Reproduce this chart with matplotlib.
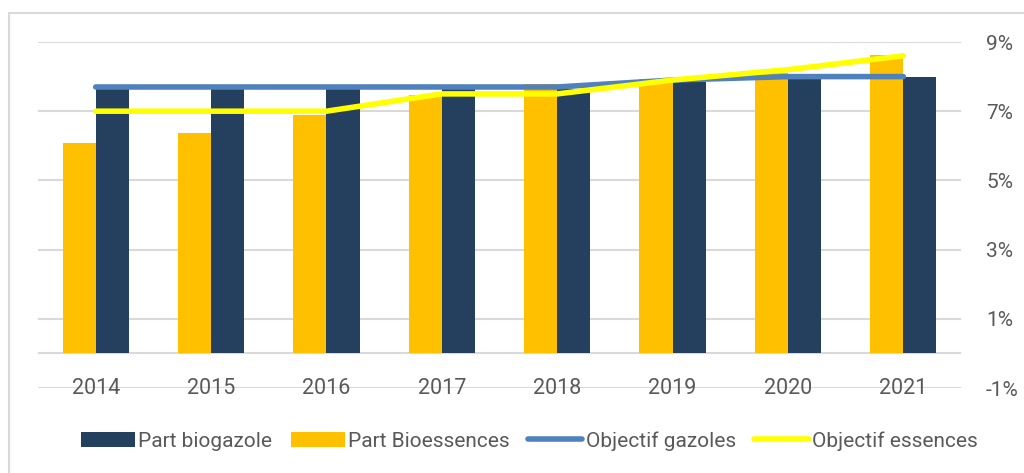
import matplotlib
matplotlib.use("Agg")
import matplotlib.pyplot as plt
from matplotlib.lines import Line2D
from matplotlib.patches import Rectangle, Patch
import numpy as np

years = ["2014", "2015", "2016", "2017", "2018", "2019", "2020", "2021"]
part_biogazole = [7.7, 7.7, 7.7, 7.7, 7.65, 7.85, 7.95, 8.0]
part_bioessences = [6.07, 6.36, 6.9, 7.47, 7.8, 7.92, 8.09, 8.62]
objectif_gazoles = [7.7, 7.7, 7.7, 7.7, 7.7, 7.9, 8.0, 8.0]
objectif_essences = [7.0, 7.0, 7.0, 7.5, 7.5, 7.9, 8.2, 8.6]
y_ticks = [-1, 1, 3, 5, 7, 9]
y_labels = ["-1%", "1%", "3%", "5%", "7%", "9%"]

NAVY = "#253F5F"
ORANGE = "#FFC000"
BLUE = "#4F81BD"
YELLOW = "#FFFF00"
GRID = "#D9D9D9"
TXT = "#595959"

plt.rcParams['font.family'] = ['Roboto', 'DejaVu Sans']

fig = plt.figure(figsize=(10.24, 4.73), dpi=100)
ax = fig.add_axes([38/1024, 1-388/473, (961-38)/1024, (388-42)/473])

x = np.arange(len(years))
w = 0.287
ax.bar(x - w/2, part_bioessences, width=w, color=ORANGE, zorder=3, label="Part Bioessences")
ax.bar(x + w/2, part_biogazole, width=w, color=NAVY, zorder=3, label="Part biogazole")
ax.plot(x, objectif_gazoles, color=BLUE, lw=4.0, solid_capstyle='round', zorder=4)
ax.plot(x, objectif_essences, color=YELLOW, lw=4.0, solid_capstyle='round', zorder=5)

ax.set_xlim(-0.5, len(years) - 0.5)
ax.set_ylim(-1, 9)
for t in y_ticks:
    ax.axhline(t, color=GRID, lw=1.5, zorder=1)
ax.axhline(0, color=GRID, lw=1.5, zorder=2)

ax.yaxis.tick_right()
ax.set_yticks(y_ticks)
ax.set_yticklabels(y_labels)
ax.tick_params(axis='y', length=0, pad=18, labelsize=15, labelcolor=TXT)
ax.set_xticks(x)
ax.set_xticklabels(years)
ax.tick_params(axis='x', length=0, pad=-7.5, labelsize=15.5, labelcolor=TXT)
for s in ax.spines.values():
    s.set_visible(False)

# chart border
fig.patches.append(Rectangle((9/1024, -0.1), 1.2, 1 - 13.5/473 + 0.1, transform=fig.transFigure,
                             fill=False, edgecolor="#D9D9D9", lw=1.5))

handles = [Patch(facecolor=NAVY), Patch(facecolor=ORANGE),
           Line2D([], [], color=BLUE, lw=4.0, solid_capstyle='round'),
           Line2D([], [], color=YELLOW, lw=4.0, solid_capstyle='round')]
labels = ["Part biogazole", "Part Bioessences", "Objectif gazoles", "Objectif essences"]
fig.legend(handles, labels, loc='center', bbox_to_anchor=(529/1024, 1-441/473), ncol=4,
           frameon=False, fontsize=15, labelcolor=TXT, handlelength=2.6, handleheight=0.7,
           handletextpad=0.15, columnspacing=0.9)

fig.savefig("out.png", dpi=100)
